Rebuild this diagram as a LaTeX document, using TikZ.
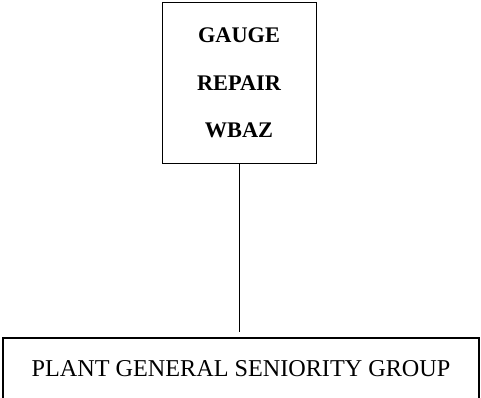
\documentclass[tikz,border=0pt]{standalone}
\usepackage{fontspec}
\setmainfont{Liberation Serif}
\usetikzlibrary{positioning,calc}
\tikzset{
  unitbox/.style={draw=black, line width=1pt, fill=white, minimum width=154pt, minimum height=160pt,
    align=center, inner sep=0pt, font=\fontsize{22.3}{47.5}\selectfont\bfseries},
  groupbox/.style={draw=black, line width=1.6pt, minimum width=476pt, minimum height=66pt,
    inner sep=0pt, font=\fontsize{24.2}{28}\selectfont},
  link/.style={draw=black, line width=0.9pt},
}

\begin{document}
\begin{tikzpicture}[x=1pt,y=-1pt]
  \useasboundingbox (0,0) rectangle (481,398);

  % --- boxes ---------------------------------------------------------------
  \node[unitbox] (shop) at (239,83) {GAUGE\\REPAIR\\WBAZ};
  \node[groupbox] (group) at (241,371) {\raisebox{6pt}{PLANT GENERAL SENIORITY GROUP}};

  % --- connector (stops just short of the lower box) -------------------------
  \coordinate (gap) at ($(group.north)+(0,-5)$);
  \draw[link] (shop.south) -- (shop.south |- gap);

\end{tikzpicture}
\end{document}
